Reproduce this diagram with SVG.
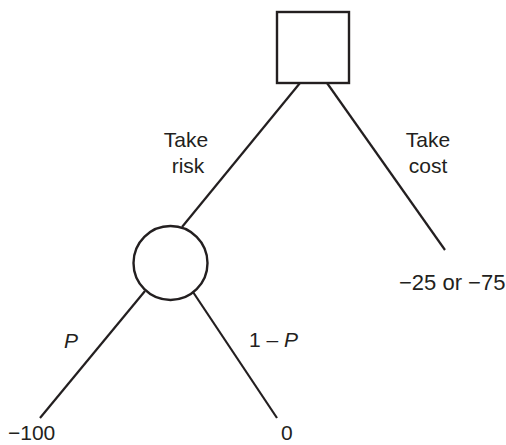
<svg xmlns="http://www.w3.org/2000/svg" width="506" height="445" viewBox="0 0 506 445">
<style>
.shape{fill:#fff;stroke:#231f20;stroke-width:2.4}
.edge{stroke:#231f20;stroke-width:2.2;fill:none}
text{font-family:"Liberation Sans",Arial,sans-serif;font-size:21px;fill:#231f20}
.m{text-anchor:middle}
.i{font-style:italic}
</style>
<rect width="506" height="445" fill="#fff"/>
<g id="connectors">
<line class="edge" x1="300" y1="83" x2="182" y2="227"/>
<line class="edge" x1="327" y1="83" x2="445" y2="250"/>
<line class="edge" x1="145" y1="291" x2="40" y2="418"/>
<line class="edge" x1="193" y1="292" x2="277" y2="418"/>
</g>
<g id="decision"><rect class="shape" x="277" y="12" width="72" height="71"/></g>
<g id="chance"><circle class="shape" cx="170.5" cy="263" r="37"/></g>
<g id="label-risk"><text class="m" x="186" y="147">Take</text><text class="m" x="188" y="173">risk</text></g>
<g id="label-cost"><text class="m" x="428" y="147">Take</text><text class="m" x="428" y="173">cost</text></g>
<g id="outcome-cost"><text x="399" y="290" style="font-size:22px">−25 or −75</text></g>
<g id="label-p"><text class="i" x="64" y="348">P</text></g>
<g id="label-1p"><text x="249" y="347">1 – <tspan class="i">P</tspan></text></g>
<g id="outcome-100"><text x="8" y="440">−100</text></g>
<g id="outcome-0"><text x="281" y="440">0</text></g>
</svg>
